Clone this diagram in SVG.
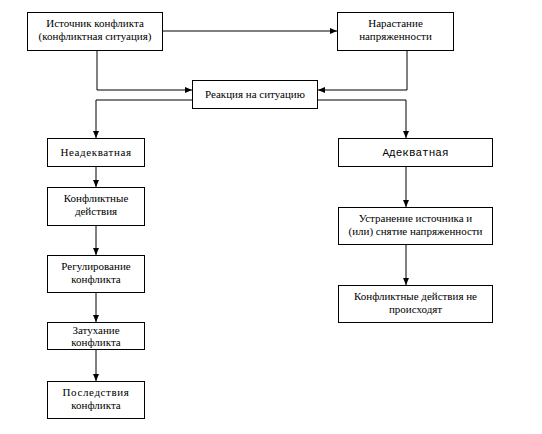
<svg xmlns="http://www.w3.org/2000/svg" width="542" height="434" viewBox="0 0 542 434">
<defs>
<marker id="ah" markerWidth="7" markerHeight="6" refX="7" refY="3" orient="auto" markerUnits="userSpaceOnUse">
<path d="M0,0 L7,3 L0,6 z" fill="#000"/>
</marker>
<style>
.box{fill:#fff;stroke:#000;stroke-width:1}
.c{fill:none;stroke:#000;stroke-width:1}
</style>
</defs>
<rect width="542" height="434" fill="#fff"/>
<g id="connectors">
<path class="c" d="M163,31 H337" marker-end="url(#ah)"/>
<path class="c" d="M97,51 V90 H192" marker-end="url(#ah)"/>
<path class="c" d="M407,51 V90 H318" marker-end="url(#ah)"/>
<path class="c" d="M192,100 H96 V138" marker-end="url(#ah)"/>
<path class="c" d="M318,100 H406 V138" marker-end="url(#ah)"/>
<path class="c" d="M96,167 V187" marker-end="url(#ah)"/>
<path class="c" d="M96,226 V255" marker-end="url(#ah)"/>
<path class="c" d="M96,293 V322" marker-end="url(#ah)"/>
<path class="c" d="M96,349 V381" marker-end="url(#ah)"/>
<path class="c" d="M406,167 V207" marker-end="url(#ah)"/>
<path class="c" d="M406,245 V285" marker-end="url(#ah)"/>
</g>
<g font-family="'Liberation Serif', 'Times New Roman', serif" font-size="11" fill="#000" text-anchor="middle">
<g id="source">
<rect class="box" x="27.5" y="12.5" width="135" height="38"/>
<text x="95" y="27">Источник конфликта</text>
<text x="95" y="40">(конфликтная ситуация)</text>
</g>
<g id="tension">
<rect class="box" x="337.5" y="12.5" width="116" height="38"/>
<text x="395.5" y="27">Нарастание</text>
<text x="395.5" y="40">напряженности</text>
</g>
<g id="reaction">
<rect class="box" x="192.5" y="80.5" width="125" height="28"/>
<text x="255" y="98">Реакция на ситуацию</text>
</g>
<g id="inadequate">
<rect class="box" x="47.5" y="138.5" width="97" height="28"/>
<text x="96" y="156" letter-spacing="0.6">Неадекватная</text>
</g>
<g id="actions">
<rect class="box" x="47.5" y="187.5" width="97" height="38"/>
<text x="96" y="202">Конфликтные</text>
<text x="96" y="215">действия</text>
</g>
<g id="regulation">
<rect class="box" x="47.5" y="255.5" width="97" height="37"/>
<text x="96" y="270">Регулирование</text>
<text x="96" y="283">конфликта</text>
</g>
<g id="fading">
<rect class="box" x="47.5" y="322.5" width="97" height="27"/>
<text x="96" y="334">Затухание</text>
<text x="96" y="346">конфликта</text>
</g>
<g id="consequences">
<rect class="box" x="47.5" y="381.5" width="97" height="37"/>
<text x="96" y="396" letter-spacing="0.6">Последствия</text>
<text x="96" y="409">конфликта</text>
</g>
<g id="adequate">
<rect class="box" x="338.5" y="138.5" width="154" height="28"/>
<text x="415.5" y="156" font-family="'Liberation Mono', 'Courier New', monospace">Адекватная</text>
</g>
<g id="removal">
<rect class="box" x="338.5" y="207.5" width="154" height="37"/>
<text x="415.5" y="222">Устранение источника и</text>
<text x="415.5" y="235">(или) снятие напряженности</text>
</g>
<g id="noactions">
<rect class="box" x="338.5" y="285.5" width="154" height="37"/>
<text x="415.5" y="300">Конфликтные действия не</text>
<text x="415.5" y="313">происходят</text>
</g>
</g>
</svg>
